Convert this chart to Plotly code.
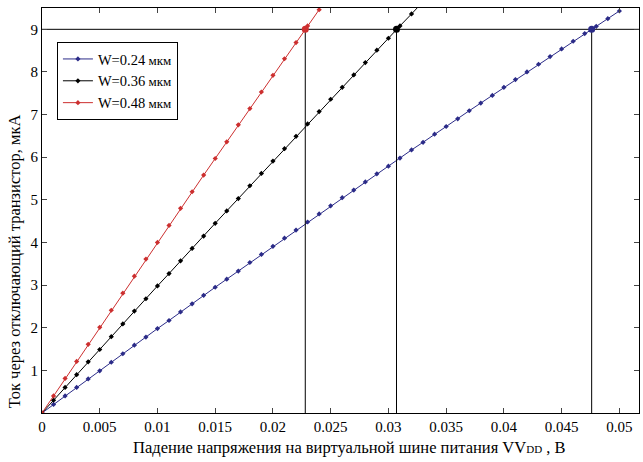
import plotly.graph_objects as go

# Voltage drop on virtual supply rail, V (marker step 0.001 V)
x_red = [i / 1000 for i in range(0, 25)]
x_black = [i / 1000 for i in range(0, 34)]
x_blue = [i / 1000 for i in range(0, 51)]

# Current through the switching transistor, mA
y_red = [0, 0.40, 0.81, 1.21, 1.61, 2.01, 2.41, 2.81, 3.21, 3.61, 4.00, 4.40, 4.80,
         5.19, 5.58, 5.97, 6.36, 6.76, 7.14, 7.53, 7.92, 8.31, 8.69, 9.08, 9.46]
y_black = [0, 0.30, 0.60, 0.90, 1.20, 1.49, 1.79, 2.09, 2.39, 2.68, 2.98, 3.27, 3.57,
           3.86, 4.15, 4.45, 4.74, 5.03, 5.33, 5.62, 5.91, 6.20, 6.49, 6.78, 7.07,
           7.36, 7.64, 7.93, 8.22, 8.51, 8.79, 9.08, 9.36, 9.65]
y_blue = [0, 0.20, 0.40, 0.60, 0.80, 0.99, 1.19, 1.39, 1.59, 1.78, 1.98, 2.17, 2.37,
          2.56, 2.76, 2.95, 3.14, 3.33, 3.53, 3.72, 3.91, 4.10, 4.29, 4.48, 4.67,
          4.86, 5.05, 5.23, 5.42, 5.61, 5.79, 5.98, 6.17, 6.35, 6.54, 6.72, 6.90,
          7.09, 7.27, 7.45, 7.64, 7.82, 8.00, 8.18, 8.36, 8.54, 8.72, 8.90, 9.07,
          9.25, 9.43]

series_names = ["W=0.24<span style='font-size:13px'> мкм</span>",
                "W=0.36<span style='font-size:13px'> мкм</span>",
                "W=0.48<span style='font-size:13px'> мкм</span>"]
colors = ["#2b2b88", "#000000", "#cc2f2f"]

x_ticks = [0, 0.005, 0.01, 0.015, 0.02, 0.025, 0.03, 0.035, 0.04, 0.045, 0.05]
x_tick_labels = ["0", "0.005", "0.01", "0.015", "0.02", "0.025", "0.03",
                 "0.035", "0.04", "0.045", "0.05"]
y_ticks = [1, 2, 3, 4, 5, 6, 7, 8, 9]

x_title = "Падение напряжения на виртуальной шине питания VV<span style='font-size:11px'>DD</span> , B"
y_title = "Ток через отключающий транзистор, мкА"

# Operating points at 9 mA
level = 9
cross_x = [0.0476, 0.0307, 0.0228]

x_max = 0.0517
y_max = 9.5

fig = go.Figure()
for xs, ys, name, c in [(x_blue, y_blue, series_names[0], colors[0]),
                        (x_black, y_black, series_names[1], colors[1]),
                        (x_red, y_red, series_names[2], colors[2])]:
    fig.add_trace(go.Scatter(x=xs, y=ys, mode="lines+markers", name=name,
                             line=dict(color=c, width=1),
                             marker=dict(symbol="diamond", size=4, color=c)))

# reference lines
fig.add_trace(go.Scatter(x=[0, x_max], y=[level, level], mode="lines",
                         line=dict(color="black", width=1), showlegend=False,
                         hoverinfo="skip"))
for cx in cross_x:
    fig.add_trace(go.Scatter(x=[cx, cx], y=[0, level], mode="lines",
                             line=dict(color="black", width=1), showlegend=False,
                             hoverinfo="skip"))
for cx, c in zip(cross_x, colors):
    fig.add_trace(go.Scatter(x=[cx], y=[level], mode="markers",
                             marker=dict(symbol="circle", size=7, color=c),
                             showlegend=False, hoverinfo="skip"))

font_family = "Liberation Serif, Times New Roman, serif"
fig.update_layout(
    width=643, height=462,
    margin=dict(l=42, r=4, t=8, b=49, autoexpand=False),
    paper_bgcolor="white", plot_bgcolor="white",
    font=dict(family=font_family, size=16, color="black"),
    showlegend=True,
    legend=dict(x=0.025, y=0.916, xanchor="left", yanchor="top",
                bordercolor="black", borderwidth=1, bgcolor="white",
                font=dict(size=14.5), tracegroupgap=0, itemwidth=30),
    annotations=[
        dict(text=x_title, xref="paper", yref="paper", x=0.514, y=-0.086,
             xanchor="center", yanchor="middle", showarrow=False,
             font=dict(size=16.5)),
        dict(text=y_title, xref="paper", yref="paper", x=-0.0469, y=0.375,
             xanchor="center", yanchor="middle", showarrow=False, textangle=-90,
             font=dict(size=16.5)),
    ],
)
fig.update_xaxes(range=[0, x_max], tickvals=x_ticks, ticktext=x_tick_labels,
                 ticks="inside", ticklen=5, mirror="ticks", showline=True,
                 linecolor="black", linewidth=1, showgrid=False, zeroline=False,
                 tickfont=dict(size=15), automargin=False)
fig.update_yaxes(range=[0, y_max], tickvals=y_ticks,
                 ticks="inside", ticklen=5, mirror="ticks", showline=True,
                 linecolor="black", linewidth=1, showgrid=False, zeroline=False,
                 tickfont=dict(size=15), automargin=False)

fig.write_html("out.html", config={"displayModeBar": False},
               post_script="document.body.style.margin='0';document.body.style.overflow='hidden';")
